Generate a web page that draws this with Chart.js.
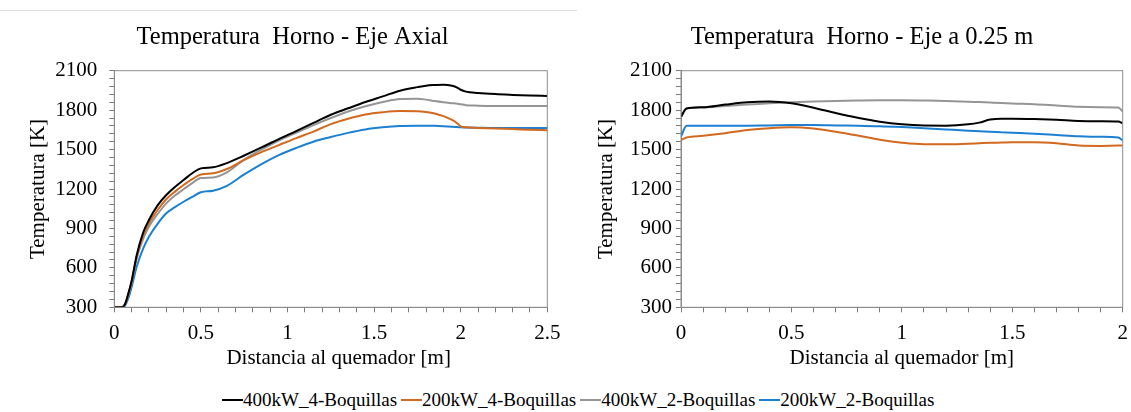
<!DOCTYPE html>
<html>
<head>
<meta charset="utf-8">
<script src="https://cdn.jsdelivr.net/npm/chart.js@4.4.1/dist/chart.umd.min.js"></script>
<style>
  html, body { margin: 0; padding: 0; background: #ffffff; }
  body { width: 1131px; height: 412px; position: relative; overflow: hidden; }
  #c1 { position: absolute; left: 0; top: 0; }
  #c2 { position: absolute; left: 593px; top: 0; }
  #topline { position: absolute; left: 0; top: 10px; width: 577px; height: 1px; background: #dcdcdc; }
  #legend { position: absolute; left: 222px; top: 388px; height: 24px; display: flex; align-items: center;
    font-family: 'Liberation Serif', 'Times New Roman', serif; font-size: 19px; color: #000; white-space: nowrap; }
  .item { display: flex; align-items: center; margin-right: 4px; }
  .swatch { display: inline-block; width: 21px; height: 2px; }
</style>
</head>
<body>
<div id="topline"></div>
<canvas id="c1" width="585" height="371"></canvas>
<canvas id="c2" width="538" height="371"></canvas>
<div id="legend"></div>
<script>
// ---- Data ----
const seriesNames = ['400kW_4-Boquillas', '200kW_4-Boquillas', '400kW_2-Boquillas', '200kW_2-Boquillas'];
const seriesColors = ['#000000', '#D2691E', '#959595', '#1B7FD2'];

// Left chart: axial axis, distance [m]
const axialX = [0, 0.04, 0.06, 0.08, 0.1, 0.13, 0.167, 0.2, 0.25, 0.3, 0.35, 0.4, 0.45, 0.5, 0.57, 0.65, 0.75, 0.85, 0.95, 1.05, 1.15, 1.25, 1.35, 1.45, 1.55, 1.65, 1.75, 1.8, 1.85, 1.9, 1.95, 1.98, 2.0, 2.03, 2.1, 2.2, 2.3, 2.4, 2.5];
const axial400kW4 = [300, 300, 320, 400, 500, 700, 870, 964, 1075, 1154, 1215, 1268, 1320, 1357, 1365, 1397, 1455, 1516, 1580, 1641, 1703, 1765, 1814, 1862, 1905, 1948, 1975, 1986, 1991, 1994, 1986, 1972, 1955, 1941, 1931, 1922, 1916, 1911, 1908];
const axial200kW4 = [300, 300, 318, 395, 495, 690, 848, 939, 1040, 1122, 1180, 1230, 1275, 1310, 1319, 1352, 1421, 1481, 1534, 1587, 1637, 1694, 1735, 1767, 1784, 1793, 1792, 1786, 1775, 1754, 1725, 1700, 1677, 1669, 1665, 1660, 1656, 1651, 1647];
const axial400kW2 = [300, 300, 316, 390, 488, 675, 823, 913, 1010, 1091, 1150, 1198, 1245, 1283, 1287, 1326, 1424, 1500, 1568, 1628, 1686, 1740, 1790, 1830, 1862, 1885, 1887, 1880, 1869, 1860, 1853, 1849, 1845, 1838, 1834, 1832, 1832, 1832, 1832];
const axial200kW2 = [300, 300, 310, 365, 455, 612, 749, 837, 935, 1015, 1062, 1103, 1140, 1175, 1187, 1224, 1311, 1390, 1458, 1512, 1560, 1595, 1627, 1653, 1669, 1679, 1682, 1682, 1681, 1678, 1674, 1671, 1669, 1668, 1666, 1664, 1664, 1664, 1664];

// Right chart: axis at 0.25 m, distance [m]
const offX = [0, 0.025, 0.1, 0.2, 0.3, 0.4, 0.5, 0.6, 0.7, 0.8, 0.9, 1.0, 1.1, 1.2, 1.3, 1.35, 1.4, 1.45, 1.5, 1.6, 1.7, 1.8, 1.9, 1.98, 2.0];
const off400kW4 = [1750, 1812, 1822, 1842, 1860, 1866, 1852, 1818, 1778, 1742, 1712, 1692, 1683, 1682, 1692, 1705, 1728, 1735, 1735, 1732, 1726, 1718, 1716, 1714, 1700];
const off200kW4 = [1572, 1592, 1605, 1625, 1648, 1663, 1670, 1660, 1636, 1607, 1575, 1552, 1540, 1540, 1545, 1548, 1551, 1553, 1555, 1556, 1548, 1531, 1528, 1530, 1530];
const off400kW2 = [1745, 1812, 1820, 1832, 1842, 1852, 1860, 1866, 1870, 1873, 1875, 1875, 1873, 1870, 1864, 1861, 1858, 1855, 1851, 1845, 1835, 1825, 1822, 1820, 1790];
const off200kW2 = [1600, 1682, 1682, 1681, 1682, 1684, 1686, 1687, 1684, 1681, 1678, 1671, 1662, 1653, 1644, 1640, 1636, 1632, 1628, 1620, 1611, 1602, 1597, 1592, 1568];

// Axis settings / tick labels
const yMin = 300, yMax = 2100, yMinorStep = 60, yMajorStep = 300;
const axialXMax = 2.5, offXMax = 2, xMinorStep = 0.1;
const titleLeft = 'Temperatura  Horno - Eje Axial';
const titleRight = 'Temperatura  Horno - Eje a 0.25 m';
const yTitle = 'Temperatura [K]';
const xTitle = 'Distancia al quemador [m]';

// ---- Rendering ----
const FAMILY = "'Liberation Serif', 'Times New Roman', serif";
const AXIS_GRAY = '#8c8c8c';

function toPoints(xs, ys) { return xs.map((x, i) => ({ x: x, y: ys[i] })); }

function makeDatasets(xs, list) {
  return list.map((vals, i) => ({
    label: seriesNames[i],
    data: toPoints(xs, vals),
    borderColor: seriesColors[i],
    backgroundColor: seriesColors[i],
    borderWidth: 2,
    pointRadius: 0,
    pointHoverRadius: 0,
    fill: false,
    cubicInterpolationMode: 'monotone'
  }));
}

const boxPlugin = {
  id: 'plotBox',
  afterDatasetsDraw(chart) {
    const a = chart.chartArea, ctx = chart.ctx;
    ctx.save();
    ctx.strokeStyle = AXIS_GRAY;
    ctx.lineWidth = 1;
    ctx.strokeRect(a.left, a.top, a.right - a.left, a.bottom - a.top);
    ctx.restore();
  }
};

function makeChart(id, cfg) {
  return new Chart(document.getElementById(id), {
    type: 'line',
    data: { datasets: makeDatasets(cfg.xs, cfg.series) },
    options: {
      responsive: false,
      animation: false,
      devicePixelRatio: 1,
      layout: { padding: 0 },
      plugins: {
        legend: { display: false },
        tooltip: { enabled: false },
        title: {
          display: true, text: cfg.title, color: '#000',
          font: { family: FAMILY, size: 24.5, weight: 'normal' },
          padding: { top: 23, bottom: 18.3 }
        }
      },
      scales: {
        x: {
          type: 'linear', min: 0, max: cfg.xMax,
          afterFit(s) { s.height = 63.7; s.paddingLeft = 0; s.paddingRight = cfg.padRight; },
          border: { display: true, color: AXIS_GRAY, width: 1 },
          grid: { display: true, drawOnChartArea: false, drawTicks: true, tickLength: 5, color: '#7a7a7a' },
          ticks: {
            stepSize: xMinorStep, autoSkip: false, maxRotation: 0, minRotation: 0,
            color: '#000', padding: 9, font: { family: FAMILY, size: 21 },
            callback(v) { const r = Math.round(v * 10); return r % 5 === 0 ? String(r / 10) : ''; }
          },
          title: { display: true, text: cfg.xTitle, color: '#000', font: { family: FAMILY, size: 21 }, padding: { top: 0, bottom: 0 } }
        },
        y: {
          type: 'linear', min: yMin, max: yMax,
          afterFit(s) { s.width = cfg.yWidth; },
          border: { display: true, color: AXIS_GRAY, width: 1 },
          grid: { display: true, drawOnChartArea: false, drawTicks: true, tickLength: 5, color: '#7a7a7a' },
          ticks: {
            stepSize: yMinorStep, autoSkip: false, color: '#000', padding: cfg.yPad,
            font: { family: FAMILY, size: 21 },
            callback(v) { return (v - yMin) % yMajorStep === 0 ? String(v) : ''; }
          },
          title: { display: true, text: yTitle, color: '#000', font: { family: FAMILY, size: 21 }, padding: { top: cfg.yTitlePad, bottom: 0 } }
        }
      }
    },
    plugins: [boxPlugin]
  });
}

makeChart('c1', {
  xs: axialX, series: [axial400kW4, axial200kW4, axial400kW2, axial200kW2],
  xMax: axialXMax, title: titleLeft, xTitle: '   ' + xTitle,
  yWidth: 114.3, yPad: 12, yTitlePad: 26, padRight: 37.7
});
makeChart('c2', {
  xs: offX, series: [off400kW4, off200kW4, off400kW2, off200kW2],
  xMax: offXMax, title: titleRight, xTitle: xTitle,
  yWidth: 88, yPad: 4, yTitlePad: 0.5, padRight: 8.3
});

// Shared legend
const legend = document.getElementById('legend');
seriesNames.forEach((name, i) => {
  const item = document.createElement('span');
  item.className = 'item';
  const sw = document.createElement('span');
  sw.className = 'swatch';
  sw.style.background = seriesColors[i];
  const tx = document.createElement('span');
  tx.textContent = name;
  item.appendChild(sw); item.appendChild(tx);
  legend.appendChild(item);
});
</script>
</body>
</html>
